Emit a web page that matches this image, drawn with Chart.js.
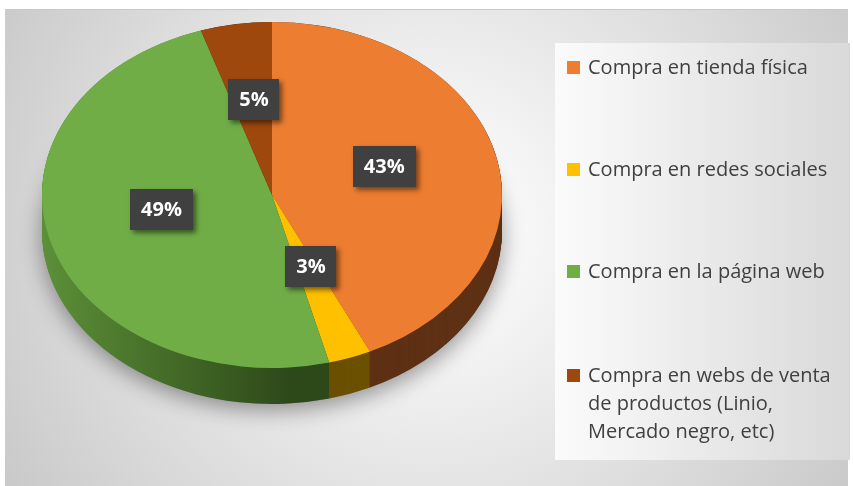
<!DOCTYPE html>
<html>
<head>
<meta charset="utf-8">
<script src="https://cdn.jsdelivr.net/npm/chart.js@4.4.1/dist/chart.umd.min.js"></script>
<style>
  body { margin: 0; background: #fff; }
  canvas { display: block; }
</style>
</head>
<body>
<canvas id="chart" width="853" height="486"></canvas>
<script>
const categories = [
    'Compra en tienda física',
    'Compra en redes sociales',
    'Compra en la página web',
    'Compra en webs de venta de productos (Linio, Mercado negro, etc)'
];
const shares = [43, 3, 49, 5];
const sliceColors = ['#ED7D31', '#FFC000', '#70AD47', '#9E480E'];
const sideColors = ['#5E3014', '#6B5000', ['#5C9038', '#2D4819'], '#5A2A08'];

// pie geometry on screen (Excel 3D look)
const CY = 195;        // screen centre of top face
const KY = 0.752;      // vertical squash
const DEPTH = 36;      // rim thickness

const pie3d = {
    id: 'pie3d',
    beforeDraw(chart) {
        const ctx = chart.ctx;
        ctx.save();
        // outer chart area
        let g = ctx.createRadialGradient(430, 230, 20, 430, 230, 560);
        g.addColorStop(0, '#ffffff');
        g.addColorStop(1, '#c2c2c2');
        ctx.fillStyle = g;
        ctx.fillRect(5, 10, 843, 476);
        ctx.fillStyle = '#c8c8c8';
        ctx.fillRect(5, 9, 843, 1);
        // legend box
        g = ctx.createLinearGradient(555, 0, 850, 0);
        g.addColorStop(0, '#fbfbfb');
        g.addColorStop(1, '#d9d9d9');
        ctx.fillStyle = g;
        ctx.fillRect(555, 43, 295, 417);
        ctx.restore();
    },
    beforeDatasetsDraw(chart) {
        const ctx = chart.ctx;
        const arcs = chart.getDatasetMeta(0).data;
        const a0 = arcs[0];
        const cx = a0.x, rx = a0.outerRadius, ry = rx * KY;
        ctx.save();
        // soft shadow under the pie
        ctx.shadowColor = 'rgba(0,0,0,0.4)';
        ctx.shadowBlur = 22;
        ctx.shadowOffsetY = 6;
        ctx.fillStyle = '#888';
        ctx.beginPath();
        ctx.ellipse(cx, CY + DEPTH, rx, ry, 0, 0, Math.PI * 2);
        ctx.fill();
        ctx.shadowColor = 'transparent';
        // rim
        for (let d = DEPTH; d >= 0; d--) {
            arcs.forEach((arc, i) => {
                const sc = sideColors[i];
                if (Array.isArray(sc)) {
                    const lg = ctx.createLinearGradient(cx - rx, 0, cx + 20, 0);
                    lg.addColorStop(0, sc[0]);
                    lg.addColorStop(1, sc[1]);
                    ctx.fillStyle = lg;
                } else {
                    ctx.fillStyle = sc;
                }
                ctx.beginPath();
                ctx.moveTo(cx, CY + d);
                ctx.ellipse(cx, CY + d, rx, ry, 0, arc.startAngle, arc.endAngle);
                ctx.closePath();
                ctx.fill();
            });
        }
        ctx.restore();
        // squash the top face drawn by Chart.js
        ctx.save();
        ctx.translate(cx, CY);
        ctx.scale(1, KY);
        ctx.translate(-cx, -a0.y);
    },
    afterDatasetsDraw(chart) {
        const ctx = chart.ctx;
        ctx.restore();
        const arcs = chart.getDatasetMeta(0).data;
        const total = shares.reduce((s, v) => s + v, 0);
        ctx.save();
        ctx.font = 'bold 20px "Open Sans"';
        ctx.textAlign = 'center';
        ctx.textBaseline = 'middle';
        arcs.forEach((arc, i) => {
            const p = arc.tooltipPosition();
            const x = p.x;
            const y = CY + (p.y - arc.y) * KY - 10;
            const txt = Math.round(shares[i] / total * 100) + '%';
            const w = ctx.measureText(txt).width + 22;
            const h = 41;
            ctx.shadowColor = 'rgba(0,0,0,0.5)';
            ctx.shadowBlur = 5;
            ctx.shadowOffsetX = 3;
            ctx.shadowOffsetY = 3;
            ctx.fillStyle = '#404040';
            ctx.fillRect(Math.round(x - w / 2), Math.round(y - h / 2), Math.round(w), h);
            ctx.shadowColor = 'transparent';
            ctx.fillStyle = '#ffffff';
            ctx.fillText(txt, x, y + 1);
        });
        ctx.restore();
    },
    afterDraw(chart) {
        const ctx = chart.ctx;
        ctx.save();
        ctx.font = '20px "Open Sans"';
        ctx.textBaseline = 'middle';
        const rowY = [68, 170, 272, 376];
        const maxW = 262;
        categories.forEach((label, i) => {
            ctx.fillStyle = sliceColors[i];
            ctx.fillRect(567, rowY[i] - 7, 13, 13);
            ctx.fillStyle = '#404040';
            // wrap text
            const words = label.split(' ');
            let line = '', lines = [];
            words.forEach(wd => {
                const t = line ? line + ' ' + wd : wd;
                if (ctx.measureText(t).width > maxW && line) {
                    lines.push(line);
                    line = wd;
                } else {
                    line = t;
                }
            });
            lines.push(line);
            lines.forEach((l, k) => ctx.fillText(l, 588, rowY[i] + k * 28));
        });
        ctx.restore();
    }
};

const chart = new Chart(document.querySelector('#chart'), {
    type: 'pie',
    data: {
        labels: categories,
        datasets: [{
            data: shares,
            backgroundColor: sliceColors,
            borderWidth: 0,
        }]
    },
    options: {
        responsive: false,
        animation: false,
        layout: {
            padding: { left: 42, right: 351, top: 13, bottom: 13 }
        },
        plugins: {
            legend: { display: false },
            tooltip: { enabled: false },
        }
    },
    plugins: [pie3d],
});
</script>
</body>
</html>
